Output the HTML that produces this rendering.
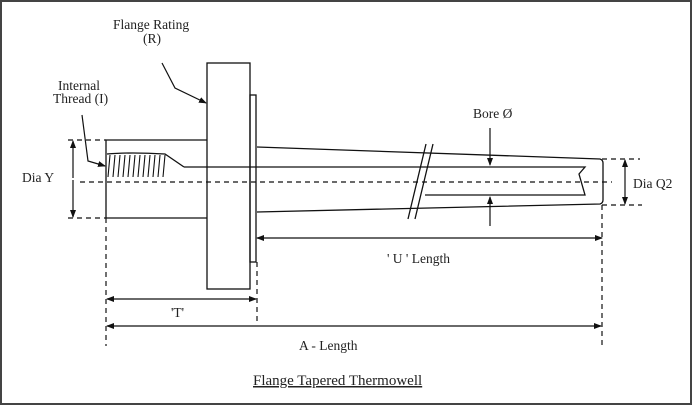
<!DOCTYPE html>
<html><head><meta charset="utf-8"><style>
html,body{margin:0;padding:0;background:#fff;}
svg{display:block;}
text{font-family:"Liberation Serif",serif;font-size:13.5px;fill:#222;}
</style></head><body>
<svg width="693" height="407" viewBox="0 0 693 407" xmlns="http://www.w3.org/2000/svg">
<defs>
<marker id="ah" markerWidth="8" markerHeight="8" refX="7" refY="4" orient="auto" markerUnits="userSpaceOnUse">
<path d="M0,1 L8,4 L0,7 Z" fill="#111"/></marker>
</defs>
<rect x="1" y="1" width="690" height="403" fill="#fff" stroke="#444" stroke-width="2"/>
<g stroke="#111" stroke-width="1.3" fill="none">
<path d="M207,140 H106 V218 H207"/>
<rect x="207" y="63" width="43" height="226"/>
<rect x="250" y="95" width="6" height="167"/>
<path d="M257,147 L600,159 Q603,160 603,163 V200 Q603,203 600,204 L257,212"/>
<path d="M184,167 H585 L579,174 L585,195 H425"/>
<path d="M107,154 Q130,152 165,154 L184,167"/>
<path d="M110,155 L108,177 M115,155 L113,177 M120,155 L118,177 M125,155 L123,177 M130,155 L128,177 M135,155 L133,177 M140,155 L138,177 M145,155 L143,177 M150,155 L148,177 M155,155 L153,177 M160,155 L158,177 M165,155 L163,177" stroke-width="1.1"/>
<path d="M426,144 L408,219 M433,144 L415,219"/>
</g>
<g stroke="#111" stroke-width="1.2" stroke-dasharray="5,4" fill="none">
<path d="M80,182 H612"/>
<path d="M68,140 H106 M68,218 H106"/>
<path d="M602,159 H640 M602,205 H642"/>
<path d="M106,218 V346 M257,262 V323 M602,205 V346"/>
</g>
<g stroke="#111" stroke-width="1.2" fill="none">
<path d="M73,178 V141" marker-end="url(#ah)"/>
<path d="M73,180 V217" marker-end="url(#ah)"/>
<path d="M625,182 V160" marker-end="url(#ah)"/>
<path d="M625,182 V204" marker-end="url(#ah)"/>
<path d="M490,128 V165" marker-end="url(#ah)"/>
<path d="M490,226 V197" marker-end="url(#ah)"/>
<path d="M430,238 H257" marker-end="url(#ah)"/>
<path d="M430,238 H602" marker-end="url(#ah)"/>
<path d="M180,299 H107" marker-end="url(#ah)"/>
<path d="M180,299 H256" marker-end="url(#ah)"/>
<path d="M350,326 H107" marker-end="url(#ah)"/>
<path d="M350,326 H601" marker-end="url(#ah)"/>
<path d="M162,63 L175,88 L206,103" marker-end="url(#ah)"/>
<path d="M82,115 L88,161 L105,166" marker-end="url(#ah)"/>
</g>
<text x="113" y="29">Flange Rating</text>
<text x="143" y="43">(R)</text>
<text x="58" y="90">Internal</text>
<text x="53" y="103">Thread (I)</text>
<text x="22" y="182">Dia Y</text>
<text x="633" y="188">Dia Q2</text>
<text x="473" y="118">Bore Ø</text>
<text x="387" y="263">' U ' Length</text>
<text x="171" y="317">'T'</text>
<text x="299" y="350">A - Length</text>
<text x="253" y="385" style="font-size:15px" text-decoration="underline">Flange Tapered Thermowell</text>
</svg>
</body></html>
